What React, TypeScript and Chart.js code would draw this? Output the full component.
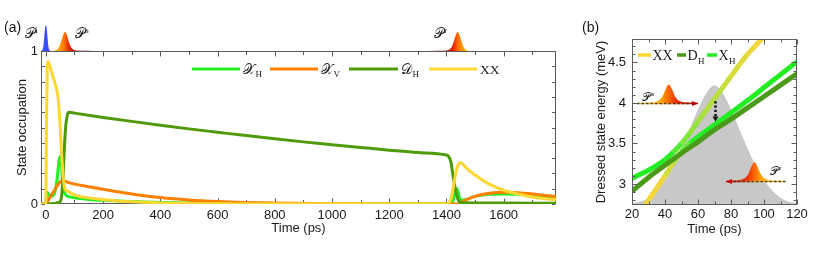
import React, { useEffect, useRef } from 'react';
import { Chart, registerables } from 'chart.js';

Chart.register(...registerables);

// ================= Panel (a): state occupation =================
const xhTime = [-17, 0, 2, 5, 10, 20, 30, 38, 44, 49, 54, 58, 62, 66, 72, 80, 100, 150, 200, 300, 400, 500, 700, 900, 1400, 1420, 1430, 1437, 1443, 1450, 1470, 1500, 1550, 1600, 1650, 1700, 1783];
const xhValue = [0, 0, 0.06, 0.075, 0.06, 0.05, 0.07, 0.14, 0.25, 0.31, 0.26, 0.16, 0.1, 0.07, 0.055, 0.048, 0.04, 0.03, 0.024, 0.016, 0.01, 0.006, 0.002, 0, 0, 0.01, 0.07, 0.1, 0.06, 0.025, 0.03, 0.05, 0.063, 0.066, 0.063, 0.058, 0.045];

const xvTime = [-17, 0, 10, 20, 30, 40, 50, 60, 80, 100, 150, 200, 250, 300, 400, 500, 600, 700, 800, 1000, 1200, 1440, 1460, 1500, 1550, 1600, 1650, 1700, 1783];
const xvValue = [0, 0, 0.03, 0.06, 0.09, 0.12, 0.146, 0.15, 0.14, 0.13, 0.113, 0.097, 0.08, 0.066, 0.042, 0.026, 0.016, 0.01, 0.006, 0.002, 0, 0, 0.02, 0.05, 0.07, 0.076, 0.074, 0.066, 0.048];

const dhTime = [-17, 0, 30, 40, 50, 55, 60, 65, 70, 75, 80, 100, 200, 300, 400, 500, 600, 700, 800, 900, 1000, 1100, 1200, 1300, 1400, 1408, 1415, 1422, 1430, 1437, 1445, 1460, 1600, 1783];
const dhValue = [0, 0, 0.003, 0.008, 0.015, 0.05, 0.18, 0.38, 0.52, 0.58, 0.6, 0.594, 0.566, 0.54, 0.515, 0.491, 0.469, 0.447, 0.426, 0.406, 0.388, 0.37, 0.352, 0.336, 0.32, 0.31, 0.28, 0.2, 0.11, 0.05, 0.015, 0.008, 0.006, 0.005];

const xxTime = [-17, 0, 2, 5, 8, 20, 30, 43, 50, 55, 60, 65, 70, 80, 100, 150, 200, 250, 300, 400, 500, 700, 1400, 1415, 1425, 1435, 1442, 1450, 1470, 1500, 1550, 1600, 1650, 1700, 1783];
const xxValue = [0, 0, 0.5, 0.88, 0.93, 0.86, 0.8, 0.69, 0.5, 0.33, 0.19, 0.11, 0.09, 0.08, 0.06, 0.04, 0.03, 0.02, 0.014, 0.007, 0.003, 0.001, 0, 0.03, 0.12, 0.22, 0.26, 0.27, 0.235, 0.19, 0.13, 0.09, 0.066, 0.046, 0.027];

const xTickLabelsA = [0, 200, 400, 600, 800, 1000, 1200, 1400, 1600];
const xTickMarksA = [0, 100, 200, 300, 400, 500, 600, 700, 800, 900, 1000, 1100, 1200, 1300, 1400, 1500, 1600, 1700];
const yTickLabelsA = [0, 1];
const yTickMarksA = [0, 0.1, 0.2, 0.3, 0.4, 0.5, 0.6, 0.7, 0.8, 0.9, 1];

// pulses above panel (a): time, height above occupation 1
const pulseITime = [-16, -11, -8, -6, -4, -2, 0, 2, 4, 6, 8, 11, 16];
const pulseIHeight = [0, 0.01, 0.04, 0.085, 0.13, 0.16, 0.17, 0.16, 0.13, 0.085, 0.04, 0.01, 0];
const pulseSTime = [25, 35, 42, 48, 53, 58, 62, 66, 70, 74, 78, 83, 88, 95, 105, 120, 140, 170];
const pulseSHeight = [0, 0.005, 0.015, 0.035, 0.06, 0.09, 0.113, 0.124, 0.12, 0.1, 0.075, 0.045, 0.025, 0.01, 0.004, 0.002, 0.001, 0];
const pulseRTime = [1336, 1366, 1386, 1401, 1411, 1418, 1423, 1428, 1432, 1436, 1440, 1444, 1448, 1453, 1458, 1464, 1471, 1481];
const pulseRHeight = [0, 0.001, 0.002, 0.004, 0.01, 0.025, 0.045, 0.075, 0.1, 0.12, 0.124, 0.113, 0.09, 0.06, 0.035, 0.015, 0.005, 0];

// ================= Panel (b): dressed state energies =================
const pulseEnvTime = [20, 25, 30, 35, 40, 45, 50, 55, 60, 65, 70, 75, 80, 85, 90, 95, 100, 105, 110, 115, 120];
const pulseEnvValue = [2.76, 2.78, 2.83, 2.92, 3.05, 3.22, 3.44, 3.68, 3.92, 4.12, 4.22, 4.12, 3.92, 3.68, 3.44, 3.22, 3.05, 2.92, 2.83, 2.78, 2.76];

const upperTime = [20, 25, 30, 35, 40, 45, 50, 55, 60, 65, 70, 75, 80, 85, 90, 95, 100];
const upperValue = [3.07, 3.12, 3.17, 3.23, 3.3, 3.39, 3.5, 3.63, 3.77, 3.91, 4.05, 4.19, 4.33, 4.47, 4.6, 4.71, 4.82];

const lowerTime = [26, 30, 35, 40, 45, 50, 55, 60, 70, 80, 90, 100, 110, 120];
const lowerValue = [2.68, 2.8, 2.95, 3.1, 3.26, 3.4, 3.5, 3.58, 3.73, 3.88, 4.03, 4.19, 4.35, 4.51];

const darkTime = [20, 30, 40, 50, 60, 70, 80, 90, 100, 110, 120];
const darkValue = [2.91, 3.08, 3.23, 3.38, 3.52, 3.67, 3.8, 3.94, 4.08, 4.22, 4.36];

const xTickLabelsB = [20, 40, 60, 80, 100, 120];
const xTickMarksB = [20, 30, 40, 50, 60, 70, 80, 90, 100, 110, 120];
const yTickLabelsB = [3, 3.5, 4, 4.5];
const yTickMarksB = [2.8, 2.9, 3, 3.1, 3.2, 3.3, 3.4, 3.5, 3.6, 3.7, 3.8, 3.9, 4, 4.1, 4.2, 4.3, 4.4, 4.5, 4.6, 4.7];

// inset pulses in panel (b)
const insetSTime = [30, 34, 36.5, 38.5, 40, 41, 42, 43, 44.5, 46, 48, 51, 55, 60];
const insetSHeight = [0, 0.01, 0.03, 0.08, 0.15, 0.2, 0.23, 0.22, 0.16, 0.08, 0.03, 0.01, 0.004, 0];
const insetSBase = 4.0;
const insetSLine = [23, 60];
const insetRTime = [76.5, 81.5, 85.5, 88.5, 90.5, 92, 93.5, 94.5, 95.5, 96.5, 98, 100, 102.5, 106.5];
const insetRHeight = [0, 0.004, 0.01, 0.03, 0.08, 0.16, 0.22, 0.23, 0.2, 0.15, 0.08, 0.03, 0.01, 0];
const insetRBase = 3.04;
const insetRLine = [113, 77];
const shiftArrow = { time: 70, from: 4.02, to: 3.77 };

// ================= styling =================
const W = 831;
const H = 254;
const SANS = '"Liberation Sans", Arial, sans-serif';
const SERIF = '"Liberation Serif", "Times New Roman", serif';
const MATH = '"DejaVu Serif", "DejaVu Sans", "Liberation Serif", serif';
const TEXT = '#1a1a1a';
const AXIS = '#5c5c5c';
const C_XH = '#22ee22';
const C_XV = '#ff7f00';
const C_DH = '#4f9a08';
const C_XX = '#ffd733';
const C_DH_B = '#4b9a1a';

type Stop = [number, string];
const upperStops: Stop[] = [[20, '#22ee22'], [42, '#22ee22'], [52, '#7ae83a'], [60, '#a2e23c'], [72, '#bcdf3c'], [85, '#dcda3a'], [96, '#f4d63a']];
const lowerStops: Stop[] = [[26, '#f6d63a'], [38, '#f0d83a'], [46, '#b8e03c'], [52, '#6ae838'], [58, '#22ee22']];

function hexRgb(h: string) {
  const n = parseInt(h.slice(1), 16);
  return [(n >> 16) & 255, (n >> 8) & 255, n & 255];
}
function colorAt(stops: Stop[], t: number) {
  if (t <= stops[0][0]) return stops[0][1];
  for (let i = 1; i < stops.length; i++) {
    if (t <= stops[i][0]) {
      const [t0, c0] = stops[i - 1];
      const [t1, c1] = stops[i];
      const f = (t - t0) / (t1 - t0);
      const a = hexRgb(c0);
      const b = hexRgb(c1);
      return `rgb(${a.map((v, k) => Math.round(v + (b[k] - v) * f)).join(',')})`;
    }
  }
  return stops[stops.length - 1][1];
}

const pts = (ts: number[], vs: number[]) => ts.map((t, i) => ({ x: t, y: vs[i] }));

function drawFrameTicks(chart: any, xMarks: number[], xMajor: number[], yMarks: number[], yMajor: number[], major: number, minor: number) {
  const { ctx, chartArea: ca, scales } = chart;
  const xs = scales.x;
  const ys = scales.y;
  const near = (arr: number[], v: number) => arr.some((m) => Math.abs(m - v) < 1e-6);
  ctx.save();
  ctx.strokeStyle = AXIS;
  ctx.lineWidth = 1;
  ctx.beginPath();
  const L = Math.round(ca.left) + 0.5;
  const R = Math.round(ca.right) - 0.5;
  const T = Math.round(ca.top) + 0.5;
  const B = Math.round(ca.bottom) - 0.5;
  xMarks.forEach((v) => {
    const p = Math.round(xs.getPixelForValue(v)) + 0.5;
    const len = near(xMajor, v) ? major : minor;
    ctx.moveTo(p, B);
    ctx.lineTo(p, B - len);
    ctx.moveTo(p, T);
    ctx.lineTo(p, T + len);
  });
  yMarks.forEach((v) => {
    const p = Math.round(ys.getPixelForValue(v)) + 0.5;
    const len = near(yMajor, v) ? major : minor;
    ctx.moveTo(L, p);
    ctx.lineTo(L + len, p);
    ctx.moveTo(R, p);
    ctx.lineTo(R - len, p);
  });
  ctx.stroke();
  ctx.strokeRect(L, T, R - L, B - T);
  ctx.restore();
}

function mathText(ctx: any, x: number, y: number, main: string, mainFont: string, size: number, sub?: string, sup?: string) {
  ctx.fillStyle = TEXT;
  ctx.textAlign = 'left';
  ctx.textBaseline = 'alphabetic';
  ctx.font = `${size}px ${mainFont}`;
  ctx.fillText(main, x, y);
  const w = ctx.measureText(main).width;
  if (sub) {
    ctx.font = `${Math.round(size * 0.66)}px ${SERIF}`;
    ctx.fillText(sub, x + w + 0.5, y + size * 0.25);
  }
  if (sup) {
    ctx.font = `${Math.round(size * 0.62)}px ${SERIF}`;
    ctx.fillText(sup, x + w + 0.5, y - size * 0.38);
  }
}

function fillPulse(ctx: any, xs: any, ys: any, ts: number[], hs: number[], base: number, stops: Stop[] | null, solid?: string) {
  const x0 = xs.getPixelForValue(ts[0]);
  const x1 = xs.getPixelForValue(ts[ts.length - 1]);
  let fill: any = solid;
  if (stops) {
    const g = ctx.createLinearGradient(x0, 0, x1, 0);
    stops.forEach(([t, c]) => {
      const f = (xs.getPixelForValue(t) - x0) / (x1 - x0);
      g.addColorStop(Math.min(1, Math.max(0, f)), c);
    });
    fill = g;
  }
  const yb = ys.getPixelForValue(base);
  ctx.beginPath();
  ctx.moveTo(x0, yb);
  ts.forEach((t, i) => ctx.lineTo(xs.getPixelForValue(t), ys.getPixelForValue(base + hs[i])));
  ctx.lineTo(x1, yb);
  ctx.closePath();
  ctx.fillStyle = fill;
  ctx.fill();
}

function dashedArrow(ctx: any, xs: any, ys: any, tFrom: number, tTo: number, base: number, stops: Stop[]) {
  const xa = xs.getPixelForValue(tFrom);
  const xb = xs.getPixelForValue(tTo);
  const y = Math.round(ys.getPixelForValue(base)) + 0.5;
  const g = ctx.createLinearGradient(xa, 0, xb, 0);
  stops.forEach(([f, c]) => g.addColorStop(f, c));
  ctx.save();
  ctx.strokeStyle = g;
  ctx.lineWidth = 1.3;
  ctx.beginPath();
  ctx.moveTo(xa, y);
  ctx.lineTo(xb, y);
  ctx.stroke();
  ctx.strokeStyle = 'rgba(40,30,20,0.75)';
  ctx.setLineDash([2.5, 2]);
  ctx.beginPath();
  ctx.moveTo(xa, y);
  ctx.lineTo(xb - Math.sign(xb - xa) * 4, y);
  ctx.stroke();
  ctx.setLineDash([]);
  const dir = Math.sign(xb - xa);
  ctx.fillStyle = '#c00000';
  ctx.beginPath();
  ctx.moveTo(xb, y);
  ctx.lineTo(xb - dir * 6, y - 2.5);
  ctx.lineTo(xb - dir * 6, y + 2.5);
  ctx.closePath();
  ctx.fill();
  ctx.restore();
}

// ---------- panel (a) plugins ----------
const panelAFrame = {
  id: 'panelAFrame',
  beforeDatasetsDraw(chart: any) {
    drawFrameTicks(chart, xTickMarksA, xTickLabelsA, yTickMarksA, [], 5, 3.5);
  },
};

const panelADecor = {
  id: 'panelADecor',
  afterDraw(chart: any) {
    const { ctx, scales } = chart;
    const xs = scales.x;
    const ys = scales.y;
    ctx.save();
    // pulses above the frame
    fillPulse(ctx, xs, ys, pulseITime, pulseIHeight, 1, null, '#3a4cff');
    fillPulse(ctx, xs, ys, pulseSTime, pulseSHeight, 1, [[30, '#ffc400'], [52, '#ff9800'], [66, '#ff6a00'], [78, '#f03000'], [95, '#c81000'], [170, '#7a0a0a']]);
    fillPulse(ctx, xs, ys, pulseRTime, pulseRHeight, 1, [[1336, '#7a0a0a'], [1411, '#c81000'], [1428, '#f03000'], [1440, '#ff6a00'], [1454, '#ff9800'], [1481, '#ffc400']]);
    const yl = ys.getPixelForValue(1.085);
    mathText(ctx, xs.getPixelForValue(-74), yl, '𝒫', MATH, 14, undefined, 'i');
    mathText(ctx, xs.getPixelForValue(101), yl, '𝒫', MATH, 14, undefined, 's');
    mathText(ctx, xs.getPixelForValue(1355), yl, '𝒫', MATH, 14, undefined, 'r');

    // legend
    const items = [
      { c: C_XH, x0: 192, x1: 240, main: '𝒳', font: MATH, sub: 'H' },
      { c: C_XV, x0: 270, x1: 318, main: '𝒳', font: MATH, sub: 'V' },
      { c: C_DH, x0: 349, x1: 398, main: '𝒟', font: MATH, sub: 'H' },
      { c: C_XX, x0: 429, x1: 477, main: 'XX', font: SERIF, sub: undefined },
    ];
    items.forEach((it) => {
      ctx.strokeStyle = it.c;
      ctx.lineWidth = 3;
      ctx.beginPath();
      ctx.moveTo(it.x0, 69);
      ctx.lineTo(it.x1, 69);
      ctx.stroke();
      mathText(ctx, it.x1 + 3, 74, it.main, it.font, 13.5, it.sub);
    });

    ctx.font = `14px ${SANS}`;
    ctx.fillStyle = TEXT;
    ctx.textBaseline = 'middle';
    ctx.textAlign = 'left';
    ctx.fillText('(a)', 4, 28);
    ctx.restore();
  },
};

// ---------- panel (b) plugins ----------
const panelBDecor = {
  id: 'panelBDecor',
  afterDatasetsDraw(chart: any) {
    const { ctx, scales } = chart;
    const xs = scales.x;
    const ys = scales.y;
    ctx.save();
    // dotted energy-shift arrow
    const ax = Math.round(xs.getPixelForValue(shiftArrow.time)) + 0.5;
    const ay0 = ys.getPixelForValue(shiftArrow.from);
    const ay1 = ys.getPixelForValue(shiftArrow.to);
    ctx.strokeStyle = '#111';
    ctx.lineWidth = 2.5;
    ctx.setLineDash([2.2, 2]);
    ctx.beginPath();
    ctx.moveTo(ax, ay0);
    ctx.lineTo(ax, ay1 - 4);
    ctx.stroke();
    ctx.setLineDash([]);
    ctx.fillStyle = '#111';
    ctx.beginPath();
    ctx.moveTo(ax, ay1);
    ctx.lineTo(ax - 3, ay1 - 5);
    ctx.lineTo(ax + 3, ay1 - 5);
    ctx.closePath();
    ctx.fill();

    // inset pulses
    dashedArrow(ctx, xs, ys, insetSLine[0], insetSLine[1], insetSBase, [[0, '#d8c040'], [0.5, '#e8a020'], [0.75, '#e04010'], [1, '#c00000']]);
    fillPulse(ctx, xs, ys, insetSTime, insetSHeight, insetSBase, [[30, '#ffc400'], [38, '#ffa000'], [42, '#ff6a00'], [47, '#e83000'], [60, '#b00000']]);
    dashedArrow(ctx, xs, ys, insetRLine[0], insetRLine[1], insetRBase, [[0, '#d8c040'], [0.5, '#e8a020'], [0.75, '#e04010'], [1, '#c00000']]);
    fillPulse(ctx, xs, ys, insetRTime, insetRHeight, insetRBase, [[76.5, '#b00000'], [90, '#e83000'], [94.5, '#ff6a00'], [98, '#ffa000'], [106.5, '#ffc400']]);
    mathText(ctx, xs.getPixelForValue(26), ys.getPixelForValue(4.03), '𝒫', MATH, 12, undefined, 's');
    mathText(ctx, xs.getPixelForValue(103.5), ys.getPixelForValue(3.11), '𝒫', MATH, 12, undefined, 'r');

    drawFrameTicks(chart, xTickMarksB, xTickLabelsB, yTickMarksB, yTickLabelsB, 5, 3);

    // legend
    const items = [
      { c: C_XX, x0: 638, x1: 651, main: 'XX', sub: undefined },
      { c: C_DH_B, x0: 677, x1: 686, main: 'D', sub: 'H' },
      { c: C_XH, x0: 707, x1: 717, main: 'X', sub: 'H' },
    ];
    items.forEach((it) => {
      ctx.strokeStyle = it.c;
      ctx.lineWidth = 3.5;
      ctx.beginPath();
      ctx.moveTo(it.x0, 55);
      ctx.lineTo(it.x1, 55);
      ctx.stroke();
      mathText(ctx, it.x1 + 1.5, 60, it.main, SERIF, 14, it.sub);
    });

    ctx.font = `14px ${SANS}`;
    ctx.fillStyle = TEXT;
    ctx.textBaseline = 'middle';
    ctx.textAlign = 'left';
    ctx.fillText('(b)', 582, 28);
    ctx.restore();
  },
};

const tickFont = { family: SANS, size: 13 };

function lineDs(label: string, ts: number[], vs: number[], color: string, order: number) {
  return {
    label,
    data: pts(ts, vs),
    borderColor: color,
    borderWidth: 3,
    pointRadius: 0,
    cubicInterpolationMode: 'monotone' as const,
    borderJoinStyle: 'round' as const,
    fill: false,
    order,
  };
}

function configA(): any {
  return {
    type: 'line',
    data: {
      datasets: [
        lineDs('XX', xxTime, xxValue, C_XX, 1),
        lineDs('DH', dhTime, dhValue, C_DH, 2),
        lineDs('XV', xvTime, xvValue, C_XV, 3),
        lineDs('XH', xhTime, xhValue, C_XH, 4),
      ],
    },
    options: {
      responsive: false,
      maintainAspectRatio: false,
      animation: false,
      devicePixelRatio: 1,
      events: [],
      layout: { padding: { left: 0, top: 51, right: 275, bottom: 0 } },
      plugins: { legend: { display: false }, tooltip: { enabled: false }, title: { display: false } },
      scales: {
        x: {
          type: 'linear',
          min: -17,
          max: 1783,
          grid: { display: false, drawTicks: false },
          border: { display: false },
          afterBuildTicks: (s: any) => { s.ticks = xTickLabelsA.map((v) => ({ value: v })); },
          afterFit: (s: any) => { s.height = 50; },
          ticks: { autoSkip: false, maxRotation: 0, padding: 4, color: TEXT, font: tickFont, callback: (v: any) => String(v) },
          title: { display: true, text: 'Time (ps)', color: TEXT, font: tickFont, padding: { top: 0, bottom: 18 } },
        },
        y: {
          type: 'linear',
          min: 0,
          max: 1,
          grid: { display: false, drawTicks: false },
          border: { display: false },
          afterBuildTicks: (s: any) => { s.ticks = yTickLabelsA.map((v) => ({ value: v })); },
          afterFit: (s: any) => { s.width = 41; },
          ticks: { autoSkip: false, padding: 3, color: TEXT, font: tickFont, callback: (v: any) => String(v) },
          title: { display: true, text: 'State occupation', color: TEXT, font: tickFont, padding: { top: 15, bottom: 0 } },
        },
      },
    },
    plugins: [panelAFrame, panelADecor],
  };
}

function configB(): any {
  return {
    type: 'line',
    data: {
      datasets: [
        {
          label: 'pulse',
          data: pts(pulseEnvTime, pulseEnvValue),
          borderWidth: 0,
          borderColor: 'rgba(0,0,0,0)',
          backgroundColor: '#c8c8c8',
          pointRadius: 0,
          fill: 'start',
          cubicInterpolationMode: 'monotone',
          order: 10,
          clip: 0,
        },
        {
          label: 'upper',
          data: pts(upperTime, upperValue),
          borderWidth: 5,
          borderColor: C_XH,
          segment: { borderColor: (c: any) => colorAt(upperStops, (c.p0.parsed.x + c.p1.parsed.x) / 2) },
          pointRadius: 0,
          cubicInterpolationMode: 'monotone',
          fill: false,
          order: 3,
          clip: 0,
        },
        {
          label: 'lower',
          data: pts(lowerTime, lowerValue),
          borderWidth: 5,
          borderColor: C_XH,
          segment: { borderColor: (c: any) => colorAt(lowerStops, (c.p0.parsed.x + c.p1.parsed.x) / 2) },
          pointRadius: 0,
          cubicInterpolationMode: 'monotone',
          fill: false,
          order: 2,
          clip: 0,
        },
        {
          label: 'DH',
          data: pts(darkTime, darkValue),
          borderWidth: 5,
          borderColor: C_DH_B,
          pointRadius: 0,
          cubicInterpolationMode: 'monotone',
          fill: false,
          order: 1,
          clip: 0,
        },
      ],
    },
    options: {
      responsive: false,
      maintainAspectRatio: false,
      animation: false,
      devicePixelRatio: 1,
      events: [],
      layout: { padding: { left: 570, top: 39, right: 34, bottom: 0 } },
      plugins: { legend: { display: false }, tooltip: { enabled: false }, title: { display: false } },
      scales: {
        x: {
          type: 'linear',
          min: 20,
          max: 120,
          grid: { display: false, drawTicks: false },
          border: { display: false },
          afterBuildTicks: (s: any) => { s.ticks = xTickLabelsB.map((v) => ({ value: v })); },
          afterFit: (s: any) => { s.height = 49; },
          ticks: { autoSkip: false, maxRotation: 0, padding: 2, color: TEXT, font: tickFont, callback: (v: any) => String(v) },
          title: { display: true, text: 'Time (ps)', color: TEXT, font: tickFont, padding: { top: 0, bottom: 17 } },
        },
        y: {
          type: 'linear',
          min: 2.74,
          max: 4.79,
          grid: { display: false, drawTicks: false },
          border: { display: false },
          afterBuildTicks: (s: any) => { s.ticks = yTickLabelsB.map((v) => ({ value: v })); },
          afterFit: (s: any) => { s.width = 62; },
          ticks: { autoSkip: false, padding: 6, color: TEXT, font: tickFont, callback: (v: any) => String(v) },
          title: { display: true, text: 'Dressed state energy (meV)', color: TEXT, font: tickFont, padding: { top: 24, bottom: 0 } },
        },
      },
    },
    plugins: [panelBDecor],
  };
}

export default function App() {
  const refA = useRef<HTMLCanvasElement>(null);
  const refB = useRef<HTMLCanvasElement>(null);
  useEffect(() => {
    const a = new Chart(refA.current as HTMLCanvasElement, configA());
    const b = new Chart(refB.current as HTMLCanvasElement, configB());
    return () => {
      a.destroy();
      b.destroy();
    };
  }, []);
  return (
    <div style={{ position: 'fixed', left: 0, top: 0, width: W, height: H, background: '#ffffff' }}>
      <canvas ref={refA} width={W} height={H} style={{ position: 'absolute', left: 0, top: 0, width: W, height: H }} />
      <canvas ref={refB} width={W} height={H} style={{ position: 'absolute', left: 0, top: 0, width: W, height: H }} />
    </div>
  );
}
